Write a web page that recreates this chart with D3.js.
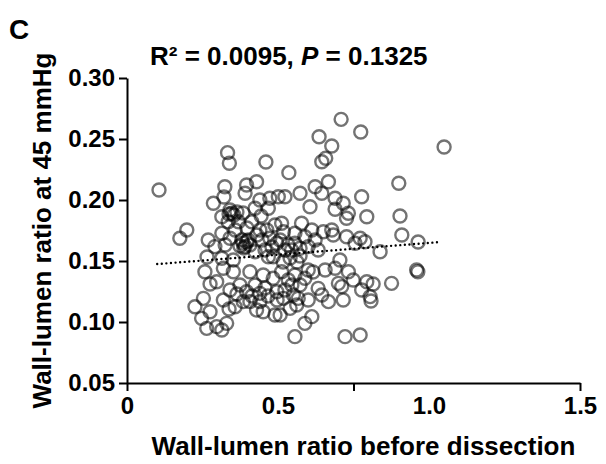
<!DOCTYPE html>
<html><head><meta charset="utf-8">
<script src="https://cdn.jsdelivr.net/npm/d3@7"></script>
<style>body{margin:0;background:#fff}text{font-family:"Liberation Sans",Arial,sans-serif;font-weight:bold}</style>
</head><body>
<svg id="c" width="606" height="464"></svg>
<script>
// before-dissection wall-lumen ratio (x) and ratio at 45 mmHg (y)
const xVals = [0.106,0.333,0.339,0.460,0.536,0.709,0.774,0.636,0.678,0.658,0.645,0.900,0.904,0.910,0.964,1.050,0.838,0.959,0.963,0.876,
0.324,0.396,0.429,0.391,0.440,0.473,0.501,0.286,0.314,0.341,0.347,0.335,0.369,0.413,0.424,0.468,0.198,0.175,0.269,0.291,0.314,0.341,0.358,0.380,0.396,0.407,0.391,0.440,0.463,0.490,0.473,0.496,0.457,0.424,0.468,0.484,0.314,0.352,0.321,0.364,0.397,0.384,0.444,0.265,
0.225,0.253,0.247,0.264,0.297,0.314,0.330,0.319,0.358,0.407,0.440,0.451,0.490,0.374,0.396,0.297,0.258,0.319,0.352,0.407,0.451,0.484,0.341,0.496,0.275,0.275,0.338,0.440,0.429,0.385,0.364,0.497,
0.523,0.573,0.606,0.623,0.645,0.667,0.689,0.716,0.727,0.733,0.777,0.794,0.678,0.683,0.650,0.612,0.578,0.556,0.512,0.518,0.507,0.727,0.772,0.788,0.755,0.633,0.705,0.573,0.600,0.545,0.556,0.589,0.623,0.689,
0.556,0.589,0.612,0.507,0.540,0.562,0.722,0.772,0.667,0.716,0.633,0.645,0.700,0.711,0.749,0.777,0.794,0.805,0.556,0.534,0.512,0.600,0.589,0.551,0.567,0.518,0.656,0.689,0.733,0.600,0.616,0.815,0.808,
0.384,0.401,0.387,0.374,0.354,0.338,0.424,0.457,0.467,0.414,0.523,0.540,0.517,0.563,0.573,0.533,0.546,0.573,0.523,0.447,0.430,0.480,0.325];
const yVals = [0.2082,0.2388,0.2301,0.2312,0.2224,0.2661,0.2557,0.2519,0.2443,0.2342,0.2314,0.2137,0.1869,0.1713,0.1656,0.2434,0.1576,0.1426,0.1412,0.1317,
0.2109,0.2123,0.2150,0.2055,0.2000,0.2014,0.2027,0.1973,0.1863,0.1918,0.1891,0.1822,0.1822,0.1822,0.1932,0.1932,0.1754,0.1686,0.1672,0.1618,0.1727,0.1686,0.1754,0.1672,0.1658,0.1631,0.1618,0.1754,0.1754,0.1795,0.1686,0.1645,0.1590,0.1576,0.1535,0.1535,0.1522,0.1508,0.2025,0.1902,0.1771,0.1893,0.1869,0.1533,
0.1125,0.1194,0.1030,0.0948,0.0962,0.0934,0.0989,0.1180,0.1125,0.1167,0.1167,0.1084,0.1057,0.1303,0.1248,0.1330,0.1412,0.1440,0.1412,0.1412,0.1385,0.1358,0.1262,0.1248,0.1312,0.1084,0.1107,0.1235,0.1098,0.1167,0.1230,0.1180,
0.2027,0.2055,0.1945,0.2109,0.2055,0.2150,0.2014,0.1973,0.1850,0.1891,0.2027,0.1863,0.1754,0.1713,0.1740,0.1754,0.1809,0.1727,0.1809,0.1740,0.1672,0.1699,0.1686,0.1658,0.1645,0.1590,0.1508,0.1604,0.1618,0.1590,0.1645,0.1699,0.1672,0.1924,
0.0880,0.0989,0.1044,0.1057,0.1112,0.1139,0.0880,0.0893,0.1167,0.1180,0.1276,0.1221,0.1317,0.1290,0.1344,0.1262,0.1330,0.1208,0.1385,0.1344,0.1412,0.1426,0.1358,0.1221,0.1194,0.1194,0.1426,0.1440,0.1412,0.1180,0.1410,0.1312,0.1172,
0.1648,0.1672,0.1607,0.1623,0.1877,0.1885,0.1303,0.1279,0.1213,0.1213,0.1590,0.1525,0.1492,0.1492,0.1541,0.1631,0.1303,0.1303,0.1262,0.1672,0.1713,0.1615,0.1631];
const fitX = [0.10, 1.04];
const fitY = [0.1475, 0.1656];
const yTicks = [0.05,0.10,0.15,0.20,0.25,0.30];
const xTickMarks = [0, 0.75, 1.5];
const xTickLabels = [0, 0.5, 1.0, 1.5];
const titleParts = ["R² = 0.0095, ", "P", " = 0.1325"];

const svg = d3.select("#c");
const L = 127, R = 580, T = 78, B = 383;
const x = d3.scaleLinear().domain([0,1.5]).range([L,R]);
const y = d3.scaleLinear().domain([0.05,0.30]).range([B,T]);

// points
const pts = xVals.map((v,i)=>({x:v,y:yVals[i]}));
svg.append("g").selectAll("circle").data(pts).join("circle")
  .attr("cx",d=>x(d.x)).attr("cy",d=>y(d.y)).attr("r",6.5)
  .attr("fill","none").attr("stroke","#000").attr("stroke-opacity",0.55).attr("stroke-width",2.4);

// fit line
svg.append("path").datum(fitX.map((v,i)=>[v,fitY[i]]))
  .attr("d",d3.line().x(d=>x(d[0])).y(d=>y(d[1])))
  .attr("fill","none").attr("stroke","#000").attr("stroke-width",2.4)
  .attr("stroke-dasharray","0,4.6").attr("stroke-linecap","round");

// y axis
const ya = svg.append("g").attr("transform",`translate(${L},0)`)
  .call(d3.axisLeft(y).tickValues(yTicks).tickFormat(d3.format(".2f")).tickSize(8).tickPadding(4).tickSizeOuter(0));
ya.selectAll("text").attr("font-size",24).attr("fill","#000").style("font-weight","bold");
ya.selectAll("line,path").attr("stroke","#000").attr("stroke-width",2);

// x axis ticks
const xa = svg.append("g").attr("transform",`translate(0,${B})`)
  .call(d3.axisBottom(x).tickValues(xTickMarks).tickFormat("").tickSize(8).tickSizeOuter(0));
xa.selectAll("line,path").attr("stroke","#000").attr("stroke-width",2);
// x labels
const xl = svg.append("g").attr("transform",`translate(0,${B})`)
  .call(d3.axisBottom(x).tickValues(xTickLabels).tickFormat(d=>d===0?"0":d3.format(".1f")(d)).tickSize(0).tickPadding(14));
xl.select(".domain").remove();
xl.selectAll("text").attr("font-size",24).attr("fill","#000").style("font-weight","bold");

// titles
svg.append("text").attr("x",9).attr("y",39).attr("font-size",28).text("C");
const t = svg.append("text").attr("x",150).attr("y",65).attr("font-size",26);
t.append("tspan").text(titleParts[0]);
t.append("tspan").style("font-style","italic").text(titleParts[1]);
t.append("tspan").text(titleParts[2]);
svg.append("text").attr("x",(L+R)/2+10).attr("y",455).attr("text-anchor","middle").attr("font-size",26)
  .text("Wall-lumen ratio before dissection");
svg.append("text").attr("transform",`translate(51,${(T+B)/2}) rotate(-90)`).attr("text-anchor","middle").attr("font-size",26)
  .text("Wall-lumen ratio at 45 mmHg");
</script>
</body></html>
